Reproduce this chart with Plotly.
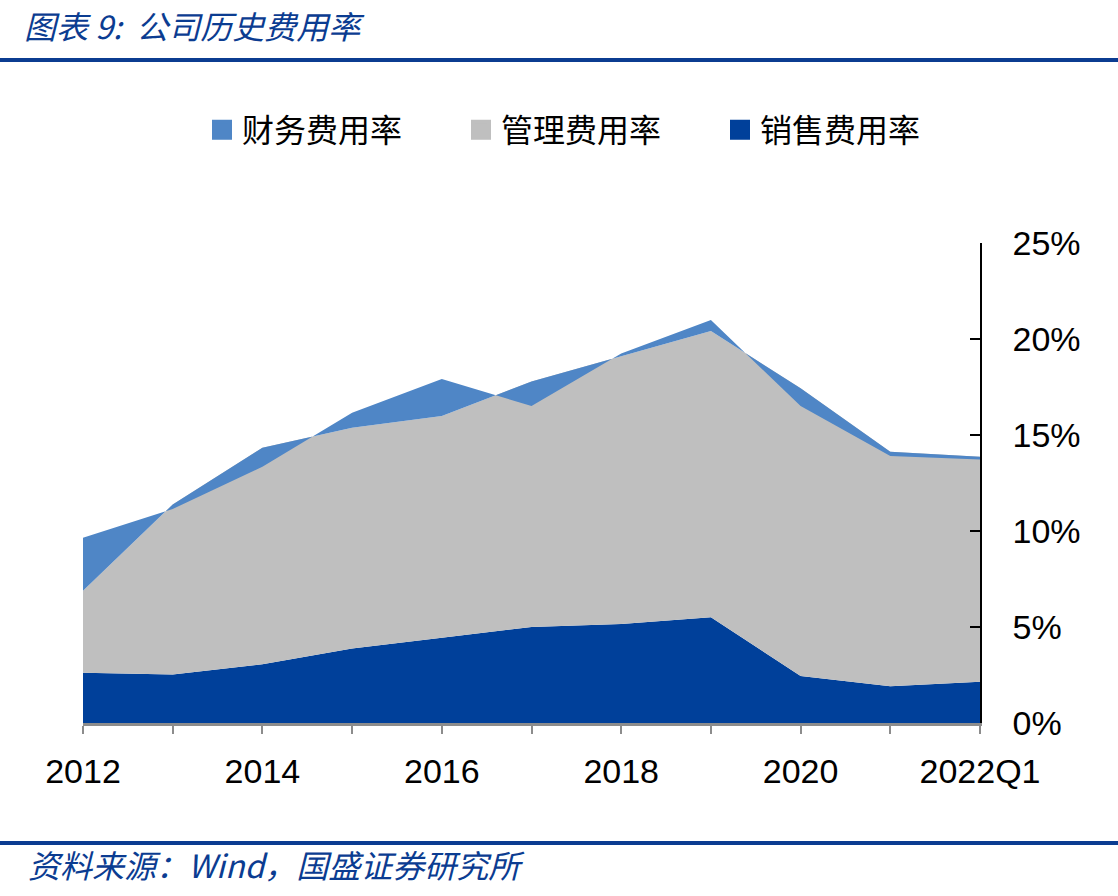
import plotly.graph_objects as go

# ---------------- data (percent) ----------------
years = ['2012', '2013', '2014', '2015', '2016', '2017', '2018', '2019', '2020', '2021', '2022Q1']
sales_ratio = [2.62, 2.53, 3.06, 3.88, 4.44, 5.00, 5.16, 5.51, 2.45, 1.92, 2.15]
admin_ratio = [4.27, 8.85, 11.28, 11.50, 11.55, 12.78, 13.94, 14.91, 14.98, 12.21, 11.72]
fin_ratio = [2.76, -0.23, -0.99, 0.78, 1.93, -1.27, 0.14, 0.57, -0.92, -0.22, -0.14]

x_tick_labels = ['2012', '', '2014', '', '2016', '', '2018', '', '2020', '', '2022Q1']
y_tick_vals = [0, 5, 10, 15, 20, 25]
y_tick_text = ['0%', '5%', '10%', '15%', '20%', '25%']

series_names = ['财务费用率', '管理费用率', '销售费用率']
c_fin, c_admin, c_sales = '#4F86C6', '#BFBFBF', '#00409A'
navy = '#0B3C91'

title_text = '图表 9:  公司历史费用率'
source_text = '资料来源：Wind，国盛证券研究所'

# ---------------- layout geometry helpers ----------------
W, H = 1118, 896
PL, PR, PT, PB = 83, 980, 243, 723


def px(x):
    return (x - PL) / (PR - PL)


def py(y):
    return (PB - y) / (PB - PT)


fig = go.Figure()

# stacked areas (sales bottom, admin middle, finance top)
for vals, col, name in [(sales_ratio, c_sales, series_names[2]),
                        (admin_ratio, c_admin, series_names[1]),
                        (fin_ratio, c_fin, series_names[0])]:
    fig.add_trace(go.Scatter(
        x=years, y=vals, mode='lines', stackgroup='one',
        line=dict(width=0, color=col), fillcolor=col,
        name=name, showlegend=False, hoverinfo='skip'))

# legend entries (square markers)
for name, col in zip(series_names, [c_fin, c_admin, c_sales]):
    fig.add_trace(go.Scatter(
        x=[None], y=[None], mode='markers', name=name,
        marker=dict(symbol='square', size=16, color=col,
                    line=dict(width=4, color=col)),
        showlegend=True))

fig.update_layout(
    width=W, height=H,
    margin=dict(l=PL, r=W - PR, t=PT, b=H - PB, pad=0),
    paper_bgcolor='white', plot_bgcolor='white',
    font=dict(family='Liberation Sans', size=34, color='black'),
    showlegend=True,
    legend=dict(
        orientation='h', x=px(202), y=py(130), xanchor='left', yanchor='middle',
        font=dict(family='Noto Sans CJK SC', size=32, color='black'),
        entrywidth=214, entrywidthmode='pixels',
        bgcolor='rgba(0,0,0,0)', traceorder='normal',
    ),
    xaxis=dict(
        type='category', range=[0, len(years) - 1],
        tickmode='array', tickvals=years, ticktext=x_tick_labels,
        showline=True, linecolor='#8C8C8C', linewidth=3,
        ticks='outside', ticklen=8, tickwidth=2, tickcolor='#8C8C8C',
        ticklabelstandoff=8,
        showgrid=False, zeroline=False,
        tickfont=dict(family='Liberation Sans', size=34, color='black'),
    ),
    yaxis=dict(
        side='right', range=[0, 25],
        tickmode='array', tickvals=y_tick_vals, ticktext=y_tick_text,
        showline=True, linecolor='black', linewidth=1.5,
        ticks='inside', ticklen=10, tickwidth=1.5, tickcolor='black',
        ticklabelstandoff=24,
        showgrid=False, zeroline=False,
        tickfont=dict(family='Liberation Sans', size=34, color='black'),
    ),
)

# header / footer rules
for yline in (60, 843):
    fig.add_shape(type='line', xref='paper', yref='paper',
                  x0=px(0), x1=px(W), y0=py(yline), y1=py(yline),
                  line=dict(color=navy, width=4))

fig.add_annotation(text='<i>' + title_text + '</i>', xref='paper', yref='paper',
                   x=px(22), y=py(25), xanchor='left', yanchor='middle',
                   showarrow=False,
                   font=dict(family='Noto Sans CJK SC', size=32, color=navy))
fig.add_annotation(text='<i>' + source_text + '</i>', xref='paper', yref='paper',
                   x=px(26), y=py(864), xanchor='left', yanchor='middle',
                   showarrow=False,
                   font=dict(family='Noto Sans CJK SC', size=32, color=navy))

fig.write_html('out.html')
